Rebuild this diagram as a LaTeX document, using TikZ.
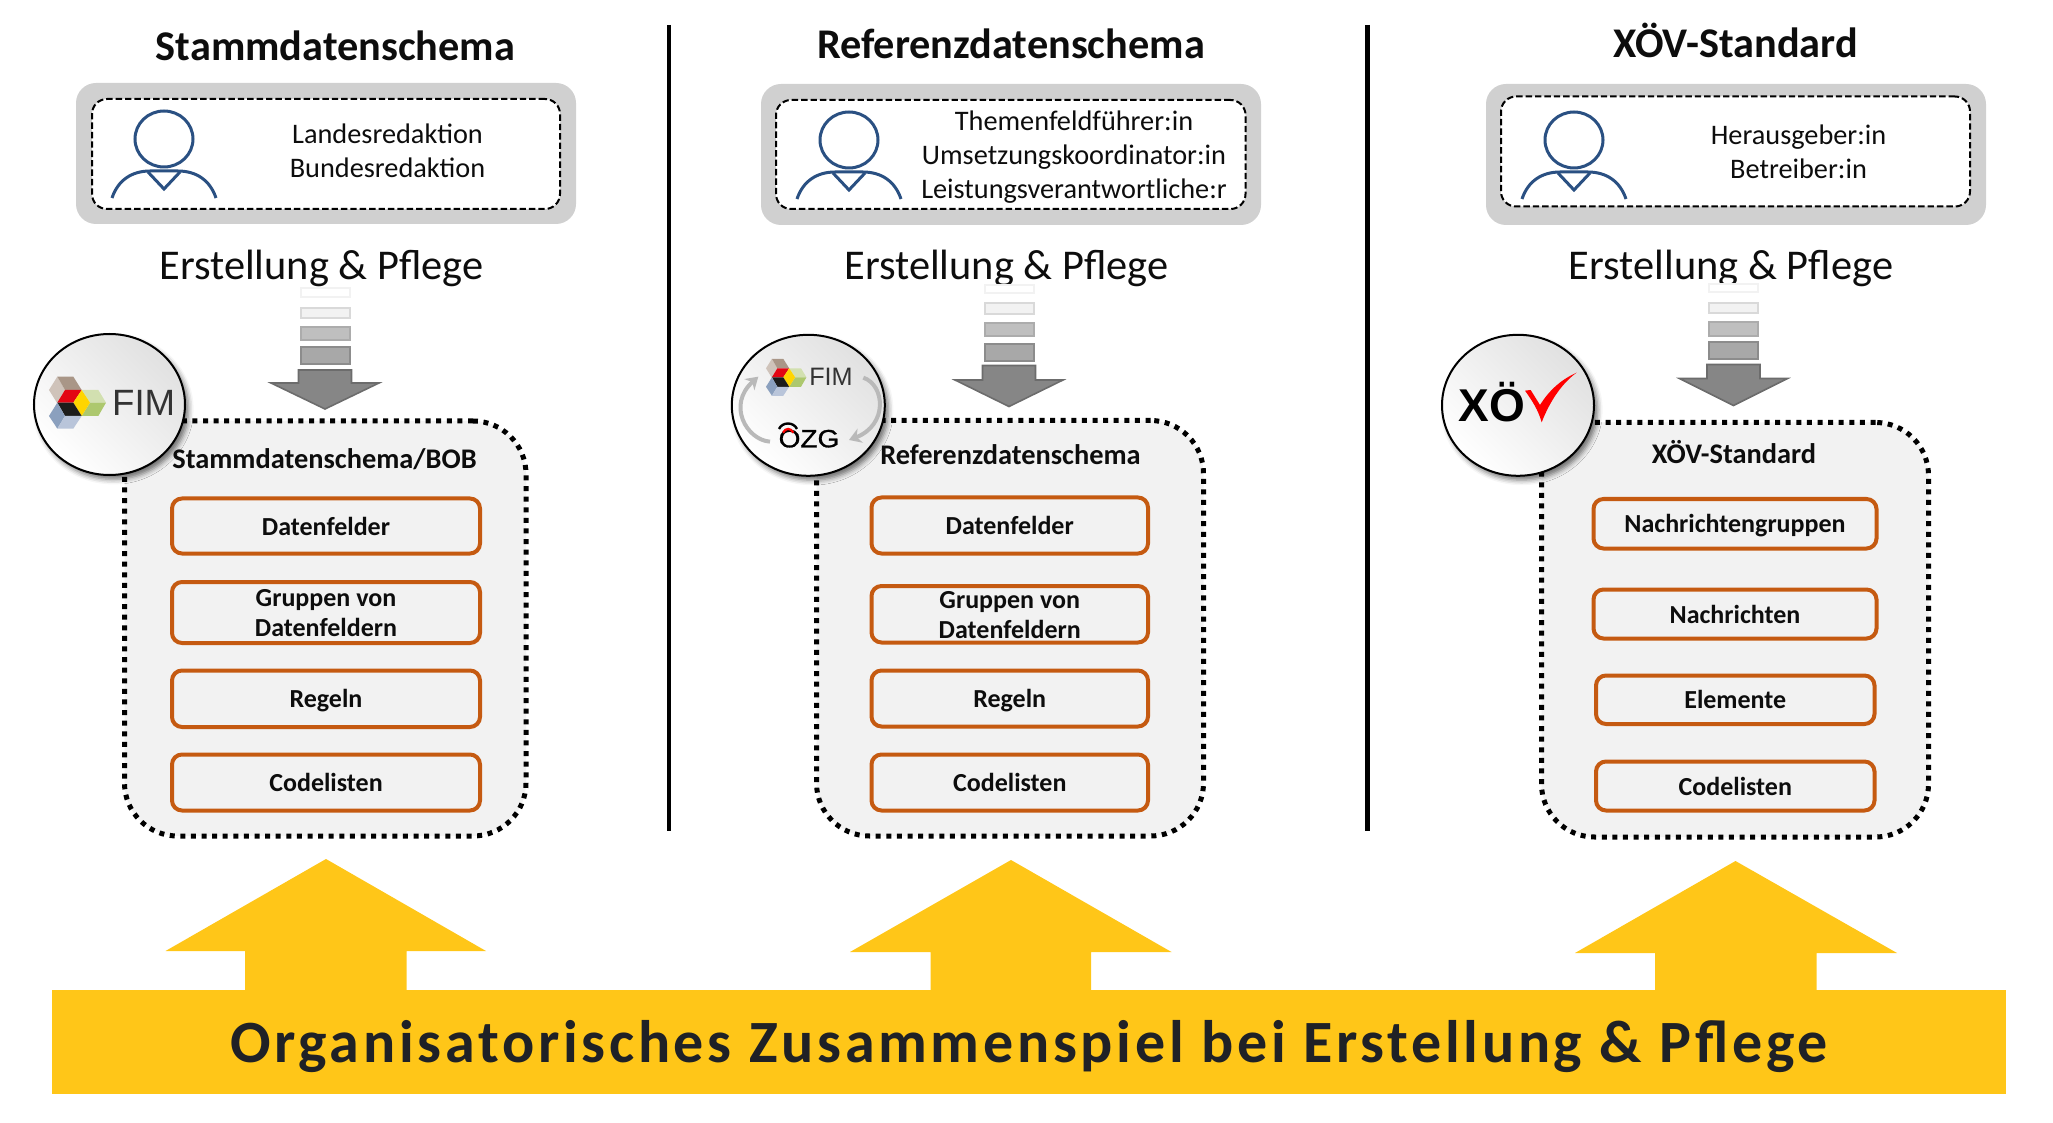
\documentclass[tikz,border=0pt]{standalone}
\usepackage{fontspec}
\setmainfont{Carlito}
\newfontfamily\logofont{Liberation Sans}
\newfontfamily\ozgfont[FakeBold=1]{Liberation Sans}
\newfontfamily\spacedfont[LetterSpace=6.2]{Carlito}
\usetikzlibrary{shapes.geometric,shadows.blur,arrows.meta}
\definecolor{graybox}{HTML}{D0D0D0}
\definecolor{panelfill}{HTML}{F2F2F2}
\definecolor{orangeline}{HTML}{C55A11}
\definecolor{personblue}{HTML}{2A5082}
\definecolor{yellowbar}{HTML}{FFC618}
\definecolor{darktext}{HTML}{1F2126}
\definecolor{inktext}{HTML}{0D0D0D}
\tikzset{
  title text/.style={anchor=base,inner sep=0pt,text=inktext,font=\fontsize{21.15}{25}\selectfont\bfseries},
  role text/.style={anchor=base,inner sep=0pt,text=inktext,font=\fontsize{14.15}{16}\selectfont},
  care text/.style={anchor=base,inner sep=0pt,text=inktext,font=\fontsize{21.2}{25}\selectfont},
  panel title/.style={anchor=base,inner sep=0pt,text=inktext,font=\fontsize{14.2}{17}\selectfont\bfseries},
  outer gray/.style={fill=graybox,rounded corners=10pt,inner sep=0pt},
  dash frame/.style={fill=white,draw=black,line width=1pt,dash pattern=on 3.2pt off 1.5pt,rounded corners=7.5pt,inner sep=0pt},
  container/.style={fill=panelfill,draw=black,line width=2.5pt,dash pattern=on 2.5pt off 2.8pt,rounded corners=26.5pt,inner sep=0pt},
  innerbox/.style={fill=panelfill,draw=orangeline,line width=2pt,rounded corners=5pt,inner sep=0pt,text=inktext,
    font=\fontsize{13}{15.25}\selectfont\bfseries,align=center,text height=9pt,text depth=0pt},
  two lines/.style={text height=24.25pt,text depth=0pt},
  logo disc/.style={ellipse,draw=black,line width=1pt,inner sep=0pt,left color=panelfill!85!gray,right color=white,shading angle=-45,
    blur shadow={shadow xshift=1.8pt,shadow yshift=-2.2pt,shadow blur radius=2.5pt,shadow opacity=55}},
  separator/.style={line width=2.3pt,black},
  person/.style={draw=personblue,line width=1.5pt},
  bar a/.style={fill=white,draw=gray!10,line width=1pt},
  bar b/.style={fill=gray!10,draw=gray!30,line width=1pt},
  bar c/.style={fill=gray!50,draw=gray!65,line width=1pt},
  bar d/.style={fill=gray!68,draw=gray!90,line width=1pt},
  down arrow/.style={fill=gray!95,draw=gray!85!black,line width=.8pt},
  yellow shape/.style={fill=yellowbar},
  cycle/.style={draw=gray!55,line width=2pt,-{Stealth[length=6pt,width=7.5pt]}}
}
\newcommand{\rectnode}[7]{\node[#2,minimum width={(#5-#3)*0.5pt},minimum height={(#6-#4)*0.5pt}] (#1) at ({(#3+#5)/2},{(#4+#6)/2}) {#7};}
\newcommand{\personicon}[3]{%
  \node[person,ellipse,minimum width=29pt,minimum height=28pt,inner sep=0pt] (#1) at (#2,#3) {};
  \draw[person] (#2-52,#3+59) .. controls (#2-46,#3+41) and (#2-32,#3+32) .. (#2-14,#3+32) -- (#2+14,#3+32) .. controls (#2+32,#3+32) and (#2+46,#3+41) .. (#2+52,#3+59);
  \draw[person] (#2-16,#3+33) -- (#2,#3+50) -- (#2+16,#3+33);}
\newcommand{\striparrow}[9]{%
  \draw[bar a] (#1,#3) rectangle (#2,#3+8.5);
  \draw[bar b] (#1,#4) rectangle (#2,#4+10.5);
  \draw[bar c] (#1,#5) rectangle (#2,#5+13.5);
  \draw[bar d] (#1,#6) rectangle (#2,#6+17);
  \draw[down arrow] (#1-2,#7) -- (#2+2,#7) -- (#2+2,#8) -- ({(#1+#2)/2+54},#8) -- ({(#1+#2)/2},#9) -- ({(#1+#2)/2-54},#8) -- (#1-2,#8) -- cycle;}
\newcommand{\fimcubes}[3]{%
  \begin{scope}[shift={(#1,#2)},scale=#3]
    \fill[fill={rgb,255:red,207;green,195;blue,186}] (87,210) -- (112,170) -- (135,210) -- (112,250) -- cycle;
    \fill[fill={rgb,255:red,169;green,150;blue,135}] (112,170) -- (160,170) -- (185,210) -- (135,210) -- cycle;
    \fill[fill={rgb,255:red,227;green,6;blue,19}] (135,210) -- (185,210) -- (160,248) -- (112,248) -- cycle;
    \fill[fill={rgb,255:red,210;green,224;blue,176}] (185,210) -- (235,210) -- (258,248) -- (210,248) -- cycle;
    \fill[fill={rgb,255:red,173;green,200;blue,110}] (210,248) -- (258,248) -- (235,288) -- (185,288) -- cycle;
    \fill[fill={rgb,255:red,255;green,213;blue,0}] (185,210) -- (210,248) -- (185,288) -- (160,248) -- cycle;
    \fill[fill={rgb,255:red,29;green,29;blue,27}] (112,248) -- (160,248) -- (185,288) -- (135,288) -- cycle;
    \fill[fill={rgb,255:red,139;green,160;blue,190}] (112,248) -- (135,288) -- (112,326) -- (87,288) -- cycle;
    \fill[fill={rgb,255:red,185;green,197;blue,218}] (135,288) -- (185,288) -- (160,326) -- (112,326) -- cycle;
  \end{scope}}
\begin{document}
\begin{tikzpicture}[x=0.5pt,y=-0.5pt]
\useasboundingbox (0,0) rectangle (2053,1123);

% separators
\coordinate (sepAtop) at (669,25); \coordinate (sepAbot) at (669,831);
\coordinate (sepBtop) at (1367.5,25); \coordinate (sepBbot) at (1367.5,831);
\draw[separator] (sepAtop) -- (sepAbot);
\draw[separator] (sepBtop) -- (sepBbot);

% titles
\node[title text] (titleA) at (335.5,60.5) {Stammdatenschema};
\node[title text] (titleB) at (1011,58.5) {Referenzdatenschema};
\node[title text] (titleC) at (1735.5,57.5) {XÖV-Standard};

% role frames
\rectnode{grayA}{outer gray}{76}{83}{576}{224}{}
\rectnode{dashA}{dash frame}{92}{99}{560}{209}{}
\personicon{personA}{164}{139}
\node[role text] (roleA1) at (387.5,144) {Landesredaktion};
\node[role text] (roleA2) at (387.5,178) {Bundesredaktion};

\rectnode{grayB}{outer gray}{761}{84}{1261}{225}{}
\rectnode{dashB}{dash frame}{776}{100}{1245.5}{209}{}
\personicon{personB}{849}{140}
\node[role text] (roleB1) at (1074,131) {Themenfeldführer:in};
\node[role text] (roleB2) at (1074,165) {Umsetzungskoordinator:in};
\node[role text] (roleB3) at (1074,199) {Leistungsverantwortliche:r};

\rectnode{grayC}{outer gray}{1486}{84}{1986}{225}{}
\rectnode{dashC}{dash frame}{1501}{96.5}{1970}{206.5}{}
\personicon{personC}{1574}{140}
\node[role text] (roleC1) at (1798.5,144.5) {Herausgeber:in};
\node[role text] (roleC2) at (1798.5,178.5) {Betreiber:in};

% care labels
\node[care text] (careA) at (321.5,280) {Erstellung \& Pflege};
\node[care text] (careB) at (1006.5,280) {Erstellung \& Pflege};
\node[care text] (careC) at (1731,280) {Erstellung \& Pflege};

% striped arrows
\striparrow{300.5}{349.5}{288.5}{308}{327}{347.5}{370}{383}{409}
\striparrow{984.5}{1033.5}{285}{303.5}{323}{344}{365.5}{380}{406.5}
\striparrow{1709}{1758}{284}{303}{322.5}{342}{364.5}{378.5}{405.5}

% containers
\rectnode{panelA}{container}{124.5}{421}{526}{836}{}
\rectnode{panelB}{container}{816.5}{420.5}{1203.5}{836}{}
\rectnode{panelC}{container}{1541.5}{422.5}{1928.5}{837}{}

\node[panel title] (headA) at (324.5,468.5) {Stammdatenschema/BOB};
\node[panel title] (headB) at (1010.5,464.5) {Referenzdatenschema};
\node[panel title] (headC) at (1734,464) {XÖV-Standard};

% inner boxes
\rectnode{a1}{innerbox}{172}{498.5}{480}{553.5}{Datenfelder}
\rectnode{a2}{innerbox,two lines}{172}{582}{480}{643}{Gruppen von\\Datenfeldern}
\rectnode{a3}{innerbox}{172}{670.5}{480}{727}{Regeln}
\rectnode{a4}{innerbox}{172}{754.5}{480}{810.5}{Codelisten}

\rectnode{b1}{innerbox}{871.5}{497.5}{1148}{553.5}{Datenfelder}
\rectnode{b2}{innerbox,two lines}{871.5}{586}{1148}{642.5}{Gruppen von\\Datenfeldern}
\rectnode{b3}{innerbox}{871.5}{670.5}{1148}{726.5}{Regeln}
\rectnode{b4}{innerbox}{871.5}{754.5}{1148}{810.5}{Codelisten}

\rectnode{c1}{innerbox}{1593.5}{499}{1876.5}{548.5}{Nachrichtengruppen}
\rectnode{c2}{innerbox}{1593.5}{589.5}{1876.5}{638.5}{Nachrichten}
\rectnode{c3}{innerbox}{1596}{675.5}{1874.5}{724}{Elemente}
\rectnode{c4}{innerbox}{1596}{761.5}{1874.5}{810.5}{Codelisten}

% logo discs
\node[logo disc,minimum width=75.5pt,minimum height=70.5pt] (discA) at (109.5,404.5) {};
\fimcubes{20}{320}{0.3333}
\node[inner sep=0pt,text={rgb,255:red,51;green,51;blue,51},font=\logofont\fontsize{18.3}{20}\selectfont] (fimA) at (143.7,402.7) {FIM};

\node[logo disc,minimum width=76.5pt,minimum height=70.5pt] (discB) at (808.3,405.3) {};
\fimcubes{745.4}{318.6}{0.2367}
\node[inner sep=0pt,text={rgb,255:red,51;green,51;blue,51},font=\logofont\fontsize{12.6}{15}\selectfont] (fimB) at (831,376.7) {FIM};
\node[inner sep=0pt,anchor=base,text=black,font=\ozgfont\fontsize{12.5}{14}\selectfont,transform shape,xscale=1.12] (ozg) at (809,447.3) {ÖZG};
\begin{scope}[shift={(725,325)},scale=0.3333]
  \fill[fill={rgb,255:red,246;green,246;blue,246}] (160,290) rectangle (218,314);
  \draw[black,line width=1.2pt] (162,312) .. controls (172,290) and (206,290) .. (216,312);
  \draw[red,line width=1.1pt] (174,323) .. controls (182,308) and (197,308) .. (205,323);
  \draw[cycle] (135,350) .. controls (65,345) and (5,240) .. (100,155);
  \draw[cycle] (415,158) .. controls (480,180) and (490,300) .. (372,345);
\end{scope}

\node[logo disc,minimum width=76pt,minimum height=70.5pt] (discC) at (1518,405.3) {};
\node[inner sep=0pt,anchor=base west,text=black,font=\logofont\bfseries\fontsize{23}{26}\selectfont] (xoe) at (1458,421.7) {XÖ};
\begin{scope}[shift={(1440,325)},scale=0.3333]
  \fill[red] (255,197) -- (272,195) -- (300,240) .. controls (325,200) and (360,165) .. (410,143) .. controls (375,168) and (335,215) .. (305,292) .. controls (295,255) and (275,225) .. (255,197) -- cycle;
\end{scope}

% yellow band with arrows
\fill[yellow shape] (245,995) -- (245,951) -- (165.5,951) -- (326,859) -- (486,951) -- (406.5,951) -- (406.5,995) -- cycle;
\fill[yellow shape] (930.5,995) -- (930.5,952) -- (850,952) -- (1011,860) -- (1171.5,952) -- (1091,952) -- (1091,995) -- cycle;
\fill[yellow shape] (1655,995) -- (1655,953) -- (1575,953) -- (1735.5,861) -- (1897,953) -- (1816.5,953) -- (1816.5,995) -- cycle;
\rectnode{band}{yellow shape,inner sep=0pt,text=darktext,font=\spacedfont\fontsize{30}{34}\selectfont\bfseries,text height=21pt,text depth=0pt}{52}{990}{2006}{1093.5}{Organisatorisches Zusammenspiel bei Erstellung \& Pflege}
\end{tikzpicture}
\end{document}
